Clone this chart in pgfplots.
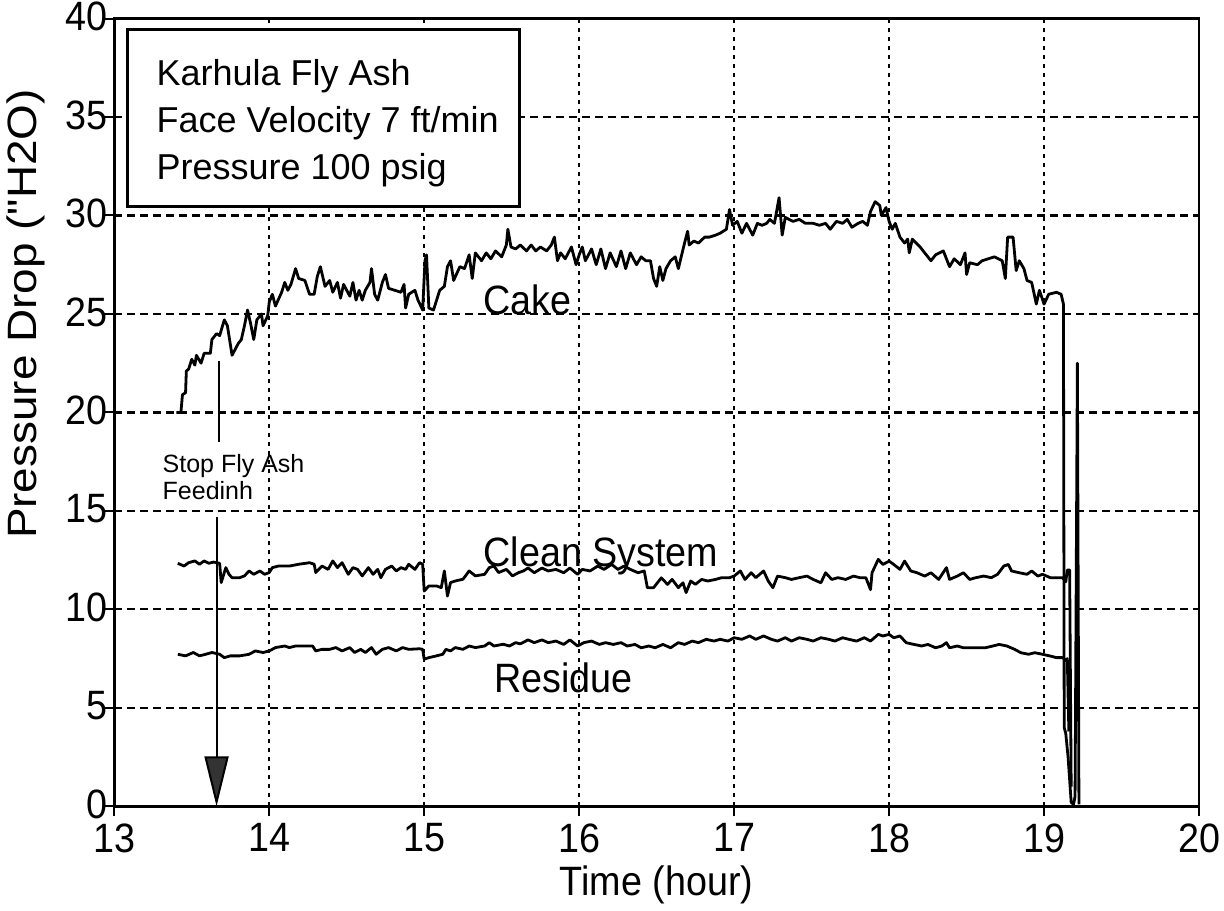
\documentclass[border=0pt]{standalone}
\usepackage{pgfplots}
\pgfplotsset{compat=1.18}
\usetikzlibrary{arrows.meta}
\usepackage{fontspec}
\setmainfont[FakeStretch=0.92]{Liberation Sans}
\newfontfamily\ylabfont[FakeStretch=1.12]{Liberation Sans}
\newfontfamily\plainfont{Liberation Sans}

\pgfplotstableread{
x y
13.40 20.0
13.43 20.0
13.44 20.9
13.46 21.0
13.465 22.1
13.48 22.2
13.50 22.7
13.52 22.4
13.53 22.9
13.56 22.5
13.58 23.0
13.62 23.0
13.63 23.7
13.66 24.0
13.68 23.9
13.71 24.7
13.73 24.4
13.76 22.9
13.80 23.5
13.82 23.7
13.84 24.4
13.86 25.2
13.88 24.5
13.90 23.7
13.92 24.7
13.95 25.0
13.96 24.4
13.99 24.9
14.00 25.6
14.02 26.0
14.04 25.4
14.08 26.1
14.10 26.6
14.12 26.2
14.14 26.5
14.17 27.3
14.19 26.8
14.23 26.7
14.26 26.0
14.29 26.0
14.31 26.9
14.33 27.4
14.36 26.4
14.39 26.7
14.41 26.1
14.44 26.6
14.46 25.8
14.48 26.5
14.52 25.9
14.54 26.6
14.56 25.7
14.58 26.2
14.60 25.7
14.62 26.2
14.65 26.6
14.66 27.3
14.68 26.0
14.70 25.7
14.73 26.6
14.75 27.0
14.77 26.3
14.81 26.2
14.85 26.1
14.87 26.5
14.88 25.3
14.90 26.0
14.94 26.2
14.96 25.7
14.99 25.2
15.005 27.7
15.015 28.0
15.03 25.3
15.06 25.2
15.10 26.2
15.13 26.4
15.15 27.4
15.17 27.7
15.19 26.7
15.23 27.4
15.26 27.3
15.29 28.0
15.31 26.8
15.33 28.1
15.37 27.7
15.40 28.1
15.43 27.8
15.46 28.2
15.50 27.9
15.53 28.5
15.54 29.3
15.56 28.4
15.59 28.3
15.62 28.5
15.66 28.2
15.69 28.5
15.72 28.2
15.75 28.4
15.79 28.2
15.82 28.5
15.84 28.9
15.86 27.7
15.88 28.1
15.91 27.8
15.95 28.4
15.98 27.5
16.00 28.0
16.02 28.4
16.04 27.7
16.08 28.3
16.11 27.5
16.14 28.3
16.17 27.3
16.20 28.1
16.24 27.4
16.27 28.2
16.30 27.3
16.33 28.1
16.37 27.5
16.40 27.9
16.43 27.7
16.46 27.7
16.48 26.8
16.50 26.4
16.52 27.4
16.54 26.7
16.56 27.3
16.59 27.7
16.62 27.9
16.64 27.3
16.68 28.6
16.70 29.2
16.71 28.5
16.74 28.7
16.77 28.6
16.81 28.9
16.84 28.9
16.88 29.0
16.91 29.1
16.95 29.3
16.97 30.3
16.99 29.5
17.02 29.7
17.05 29.1
17.08 29.6
17.12 29.0
17.15 29.6
17.18 29.5
17.21 29.6
17.23 29.8
17.26 29.6
17.29 30.9
17.31 29.0
17.33 29.9
17.38 29.7
17.42 29.8
17.46 29.6
17.51 29.6
17.55 29.5
17.59 29.6
17.62 29.3
17.66 29.7
17.70 29.6
17.73 29.8
17.76 29.4
17.80 29.6
17.83 29.7
17.86 29.5
17.88 30.2
17.91 30.7
17.94 30.5
17.95 30.0
17.98 30.4
18.00 29.7
18.02 29.3
18.04 29.6
18.07 28.9
18.10 28.6
18.12 28.8
18.13 28.1
18.15 28.8
18.20 28.4
18.23 28.1
18.27 27.7
18.30 28.0
18.35 28.2
18.39 27.4
18.42 27.8
18.46 27.5
18.49 28.1
18.50 27.0
18.52 27.6
18.57 27.5
18.60 27.7
18.64 27.8
18.68 27.9
18.73 27.7
18.75 26.8
18.765 28.9
18.80 28.9
18.82 27.2
18.84 27.7
18.87 27.3
18.89 26.7
18.92 26.6
18.95 25.5
18.97 26.2
19.00 25.5
19.03 26.0
19.08 26.1
19.11 26.0
19.125 25.5
19.13 4.0
19.14 3.7
19.155 2.5
19.175 0.2
19.19 0.1
19.20 0.5
19.215 22.5
19.225 0.1
}\cake

\pgfplotstableread{
x y
13.41 12.34
13.45 12.2
13.48 12.37
13.52 12.46
13.55 12.29
13.58 12.46
13.61 12.34
13.64 12.4
13.68 12.34
13.69 11.36
13.72 12.12
13.74 11.78
13.76 11.61
13.81 11.61
13.84 11.7
13.87 11.95
13.90 11.78
13.94 11.95
13.97 11.78
14.00 11.87
14.02 12.12
14.06 12.2
14.13 12.2
14.19 12.29
14.26 12.37
14.29 12.29
14.30 11.87
14.34 12.2
14.38 12.03
14.41 12.46
14.44 12.12
14.47 12.37
14.51 11.78
14.54 12.12
14.57 12.03
14.60 11.7
14.64 12.12
14.67 11.78
14.70 12.03
14.72 11.61
14.75 12.03
14.79 12.2
14.82 11.95
14.85 12.12
14.88 12.03
14.90 12.29
14.94 12.03
14.97 12.37
14.99 12.29
15.00 10.93
15.03 11.19
15.08 11.19
15.11 11.1
15.13 11.95
15.15 10.68
15.17 11.36
15.20 11.44
15.25 11.53
15.29 11.95
15.33 11.7
15.39 11.78
15.42 12.12
15.45 12.2
15.48 11.87
15.53 12.03
15.57 11.7
15.61 11.87
15.64 11.95
15.67 12.1
15.71 11.86
15.76 12.1
15.80 11.95
15.85 12.03
15.90 11.86
15.94 12.1
15.99 11.78
16.02 12.03
16.07 11.95
16.12 12.2
16.16 12.03
16.21 12.28
16.25 12.03
16.29 12.2
16.33 12.03
16.38 11.86
16.42 11.95
16.44 11.1
16.48 11.1
16.53 11.6
16.57 11.27
16.60 11.52
16.64 11.1
16.67 11.35
16.69 10.85
16.72 11.44
16.75 11.27
16.79 11.52
16.83 11.44
16.88 11.52
16.92 11.61
16.97 11.61
17.00 11.69
17.04 11.95
17.07 11.52
17.11 11.86
17.14 11.61
17.19 11.95
17.22 11.44
17.25 11.1
17.28 11.69
17.33 11.61
17.37 11.52
17.42 11.61
17.47 11.69
17.51 11.52
17.56 11.35
17.59 11.86
17.63 11.52
17.67 11.61
17.72 11.52
17.77 11.69
17.81 11.61
17.85 11.61
17.88 11.0
17.89 11.86
17.93 12.54
17.96 12.28
18.00 12.45
18.03 12.28
18.07 12.03
18.10 12.45
18.14 11.95
18.18 11.86
18.23 11.69
18.27 11.86
18.32 11.52
18.37 12.12
18.39 11.52
18.44 11.69
18.48 11.86
18.52 11.52
18.56 11.61
18.61 11.69
18.66 11.61
18.70 11.78
18.74 12.2
18.77 12.28
18.79 11.95
18.84 11.86
18.89 11.78
18.92 11.95
18.96 11.69
18.99 11.78
19.04 11.61
19.08 11.61
19.12 11.6
19.14 11.4
19.15 12.0
19.165 12.0
19.175 1.0
}\clean

\pgfplotstableread{
x y
13.41 7.72
13.46 7.64
13.51 7.81
13.55 7.64
13.59 7.72
13.63 7.81
13.68 7.72
13.71 7.55
13.75 7.64
13.81 7.64
13.87 7.72
13.91 7.89
13.96 7.81
14.00 7.89
14.04 8.06
14.10 8.14
14.13 8.06
14.17 8.14
14.28 8.14
14.30 7.89
14.34 7.97
14.39 7.97
14.43 8.06
14.47 7.89
14.52 8.06
14.55 7.81
14.59 7.97
14.62 7.81
14.66 8.06
14.69 7.72
14.73 7.97
14.77 8.06
14.82 7.89
14.86 8.06
14.90 7.97
14.97 8.0
14.99 7.97
15.00 7.47
15.03 7.55
15.08 7.64
15.12 7.72
15.14 7.97
15.17 7.89
15.20 8.06
15.25 7.97
15.29 8.14
15.33 8.06
15.39 8.14
15.42 8.31
15.45 8.14
15.51 8.23
15.55 8.14
15.59 8.31
15.62 8.25
15.67 8.45
15.71 8.31
15.76 8.45
15.80 8.31
15.85 8.39
15.90 8.22
15.94 8.45
15.99 8.14
16.03 8.31
16.08 8.39
16.13 8.22
16.17 8.31
16.22 8.22
16.27 8.31
16.31 8.14
16.36 8.22
16.40 8.05
16.45 8.14
16.49 8.05
16.54 8.22
16.59 8.05
16.64 8.31
16.68 8.22
16.73 8.39
16.77 8.31
16.82 8.48
16.87 8.39
16.91 8.48
16.96 8.39
17.00 8.56
17.05 8.48
17.10 8.65
17.14 8.48
17.19 8.65
17.24 8.48
17.28 8.39
17.33 8.56
17.37 8.39
17.42 8.56
17.47 8.48
17.51 8.39
17.56 8.56
17.61 8.48
17.65 8.39
17.70 8.56
17.74 8.48
17.79 8.39
17.84 8.56
17.88 8.39
17.93 8.73
17.96 8.65
18.00 8.73
18.03 8.56
18.07 8.65
18.11 8.31
18.16 8.22
18.21 8.14
18.25 8.22
18.30 8.05
18.34 8.14
18.37 8.31
18.39 8.05
18.44 8.14
18.48 8.05
18.53 8.05
18.58 8.05
18.62 8.05
18.67 8.14
18.71 8.22
18.76 8.14
18.81 7.97
18.85 7.8
18.90 7.72
18.94 7.8
18.99 7.72
19.04 7.63
19.08 7.55
19.12 7.55
19.14 7.4
19.15 7.5
19.16 3.8
}\residue

\begin{document}
\begin{tikzpicture}
\begin{axis}[
  width=542.5pt, height=394pt, scale only axis,
  xmin=13, xmax=20, ymin=0, ymax=40,
  xtick={13,14,...,20}, ytick={0,5,...,40},
  grid=major,
  x grid style={black, line width=1.1pt, dash pattern=on 2.2pt off 2.3pt},
  y grid style={black, line width=1.1pt, dash pattern=on 4pt off 2.5pt},
  axis line style={line width=1.3pt},
  tick align=outside, xtick pos=lower, ytick pos=left,
  major tick length=5pt,
  tick style={black, line width=1pt},
  /pgf/number format/assume math mode=true,
  ticklabel style={font=\fontsize{20.5}{24}\selectfont},
  xticklabel style={inner sep=2pt, yshift=-1.5pt},
  yticklabel style={inner sep=1pt, xshift=3pt, yshift=1pt},
  xlabel={Time (hour)},
  ylabel={\ylabfont Pressure Drop ("H2O)},
  label style={font=\fontsize{20.5}{24}\selectfont},
  xlabel style={yshift=-1pt},
  ylabel style={at={(ticklabel cs:0.625,6pt)}},
  clip=false,
  cycle list={{black}},
]
\addplot[black, line width=1.4pt, line join=round, no markers] table[x=x,y=y] {\cake};
\addplot[black, line width=1.4pt, line join=round, no markers] table[x=x,y=y] {\clean};
\addplot[black, line width=1.4pt, line join=round, no markers] table[x=x,y=y] {\residue};

\draw[line width=1.3pt, fill=white] (axis cs:13.084,39.44) rectangle (axis cs:15.613,30.46);
\node[anchor=north west, align=left, inner sep=0pt, font={\plainfont\fontsize{18}{23.5}\selectfont}]
  at (axis cs:13.271,37.92) {Karhula Fly Ash\\Face Velocity 7 ft/min\\Pressure 100 psig};

\node[anchor=north west, align=left, inner sep=0pt, font={\plainfont\fontsize{12.5}{13.5}\selectfont}]
  at (axis cs:13.31,17.87) {Stop Fly Ash\\Feedinh};
\draw[line width=1pt] (axis cs:13.677,22.6) -- (axis cs:13.677,18.5);
\draw[line width=1pt, -{Triangle[length=25pt,width=12pt,fill=black!80]}] (axis cs:13.66,14.7) -- (axis cs:13.66,0);

\node[anchor=base, inner sep=0pt, font=\fontsize{20.5}{24}\selectfont] at (axis cs:15.665,24.97) {Cake};
\node[anchor=base, inner sep=0pt, font=\fontsize{20.5}{24}\selectfont] at (axis cs:16.14,12.18) {Clean System};
\node[anchor=base, inner sep=0pt, font=\fontsize{20.5}{24}\selectfont] at (axis cs:15.90,5.79) {Residue};
\end{axis}
\end{tikzpicture}
\end{document}
